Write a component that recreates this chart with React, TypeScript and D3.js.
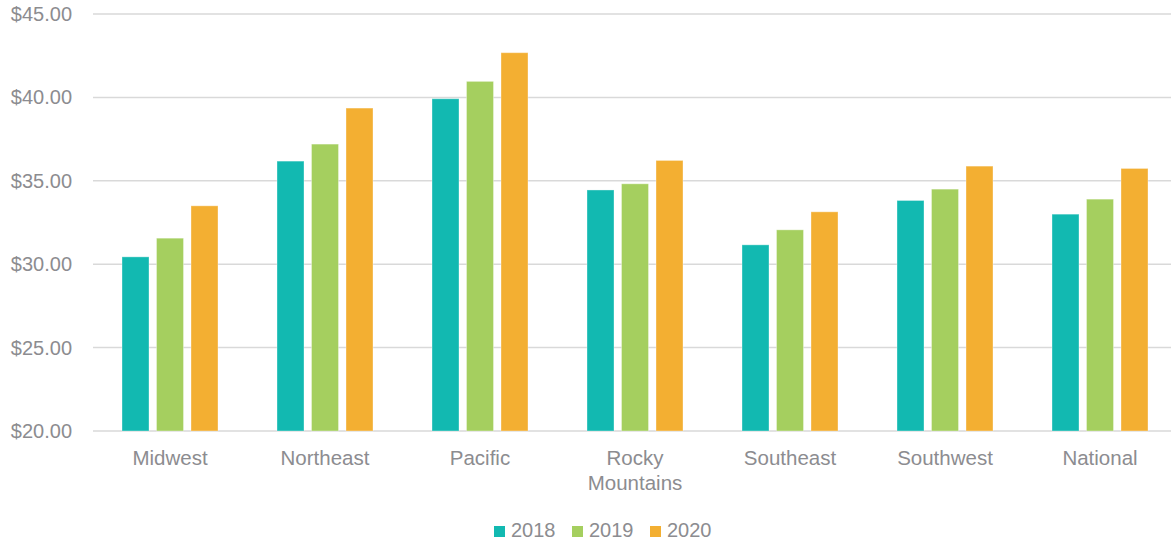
import React from "react";
import * as d3 from "d3";

const categories = ["Midwest", "Northeast", "Pacific", "Rocky Mountains", "Southeast", "Southwest", "National"];
const years = ["2018", "2019", "2020"];
const values2018 = [30.44, 36.18, 39.92, 34.45, 31.16, 33.82, 33.0];
const values2019 = [31.56, 37.2, 40.96, 34.82, 32.06, 34.5, 33.9];
const values2020 = [33.5, 39.36, 42.68, 36.22, 33.14, 35.88, 35.74];
const yTicks = [20, 25, 30, 35, 40, 45];
const colors = ["#12B9B1", "#A5CF5F", "#F3AF32"];

const W = 1171;
const H = 544;
const FONT = "'Liberation Sans', Arial, Helvetica, sans-serif";
const TEXT = "#8c8c90";

export default function App() {
  const series = [values2018, values2019, values2020];
  const y = d3.scaleLinear().domain([20, 45]).range([431, 14]);
  const x0 = d3.scaleBand<string>().domain(categories).range([92.5, 1177.5]).paddingInner(0).paddingOuter(0);
  const step = x0.bandwidth();
  const x1 = d3
    .scaleBand<string>()
    .domain(years)
    .range([step / 2 - 48, step / 2 + 48])
    .paddingInner(7.5 / 34.5)
    .paddingOuter(0);
  const fmt = (v: number) => "$" + d3.format(".2f")(v);

  const legendX = [494, 572, 650];

  return (
    <svg width={W} height={H} style={{ position: "absolute", left: 0, top: 0, background: "#fff" }} fontFamily={FONT}>
      {yTicks.map((t) => (
        <g key={t}>
          <line x1={93} x2={1171} y1={y(t)} y2={y(t)} stroke="#d9d9d9" strokeWidth={1.5} />
          <text x={72} y={y(t)} dy="0.35em" textAnchor="end" fontSize={20} fill={TEXT}>
            {fmt(t)}
          </text>
        </g>
      ))}
      {categories.map((c, i) => (
        <g key={c} transform={`translate(${x0(c)},0)`}>
          {years.map((yr, j) => {
            const v = series[j][i];
            return (
              <rect
                key={yr}
                x={x1(yr)}
                y={y(v)}
                width={x1.bandwidth()}
                height={y(20) - y(v)}
                fill={colors[j]}
                stroke="rgba(255,255,255,0.35)"
                strokeWidth={1}
              />
            );
          })}
          {c.split(" ").map((word, k) => (
            <text
              key={k}
              x={step / 2}
              y={465 + k * 25}
              textAnchor="middle"
              fontSize={20.5}
              fill={TEXT}
            >
              {word}
            </text>
          ))}
        </g>
      ))}
      {years.map((yr, j) => (
        <g key={yr}>
          <rect x={legendX[j]} y={526} width={11} height={11} fill={colors[j]} />
          <text x={legendX[j] + 17} y={537} fontSize={20} fill={TEXT}>
            {yr}
          </text>
        </g>
      ))}
    </svg>
  );
}
